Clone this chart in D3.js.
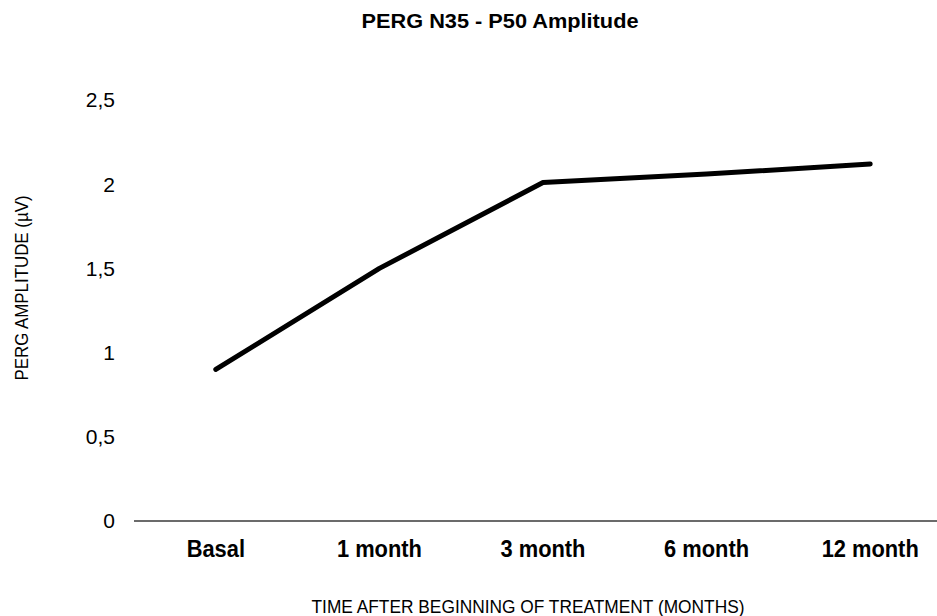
<!DOCTYPE html>
<html>
<head>
<meta charset="utf-8">
<script src="https://cdn.jsdelivr.net/npm/d3@7"></script>
<style>
  body { margin: 0; background: #fff; }
  text { font-family: "Liberation Sans", Arial, sans-serif; fill: #000; }
</style>
</head>
<body>
<svg id="chart" width="937" height="616"></svg>
<script>
// chart data
const categories = ["Basal", "1 month", "3 month", "6 month", "12 month"];
const amplitude = [0.9, 1.5, 2.01, 2.06, 2.12];
const yTicks = [0, 0.5, 1, 1.5, 2, 2.5];

const svg = d3.select("#chart");
const width = 937, height = 616;
// plot area runs a little past the right edge in the original (clipped there)
const margin = {left: 134, right: -15, top: 100, bottom: 95};

let x = d3.scaleBand()
    .domain(categories)
    .range([margin.left, width - margin.right])
    .padding(0);

let y = d3.scaleLinear()
    .domain([0, 2.5])
    .range([height - margin.bottom, margin.top]);

// squeeze text horizontally by a factor (reference glyphs are a bit narrow)
function squeeze(sel, factor){
    sel.each(function(){
        let len = this.getComputedTextLength();
        d3.select(this)
            .attr("textLength", len * factor)
            .attr("lengthAdjust", "spacingAndGlyphs");
    });
}

// title
svg.append("text")
    .attr("x", 500)
    .attr("y", 28)
    .attr("text-anchor", "middle")
    .style("font-size", "20px")
    .style("font-weight", "bold")
    .text("PERG N35 - P50 Amplitude")
    .attr("textLength", 277)
    .attr("lengthAdjust", "spacingAndGlyphs");

// y tick labels (no gridlines in the original)
svg.append("g").selectAll("text")
    .data(yTicks)
    .enter().append("text")
    .attr("x", 115)
    .attr("y", function(d){ return y(d); })
    .attr("dy", "0.35em")
    .attr("text-anchor", "end")
    .style("font-size", "21px")
    .text(function(d){ return String(d).replace(".", ","); });

// x axis line
svg.append("line")
    .attr("x1", x.range()[0])
    .attr("x2", width)
    .attr("y1", y(0))
    .attr("y2", y(0))
    .style("stroke", "#3a3a3a")
    .style("stroke-width", 1.5);

// x labels
svg.append("g").selectAll("text")
    .data(categories)
    .enter().append("text")
    .attr("x", function(d){ return x(d) + x.bandwidth() / 2; })
    .attr("y", y(0) + 36)
    .attr("text-anchor", "middle")
    .style("font-size", "23px")
    .style("font-weight", "bold")
    .text(function(d){ return d; })
    .call(squeeze, 0.95);

// axis titles
svg.append("text")
    .attr("x", 528)
    .attr("y", 613)
    .attr("text-anchor", "middle")
    .style("font-size", "19px")
    .text("TIME AFTER BEGINNING OF TREATMENT (MONTHS)")
    .attr("textLength", 433)
    .attr("lengthAdjust", "spacingAndGlyphs");

svg.append("text")
    .attr("transform", "translate(28," + 288 + ") rotate(-90)")
    .attr("text-anchor", "middle")
    .style("font-size", "18px")
    .text("PERG AMPLITUDE (µV)")
    .attr("textLength", 185)
    .attr("lengthAdjust", "spacingAndGlyphs");

// the line
let line = d3.line()
    .x(function(d, i){ return x(categories[i]) + x.bandwidth() / 2; })
    .y(function(d){ return y(d); });

svg.append("path")
    .datum(amplitude)
    .attr("d", line)
    .style("fill", "none")
    .style("stroke", "#000")
    .style("stroke-width", 5)
    .style("stroke-linecap", "round")
    .style("stroke-linejoin", "round");
</script>
</body>
</html>
